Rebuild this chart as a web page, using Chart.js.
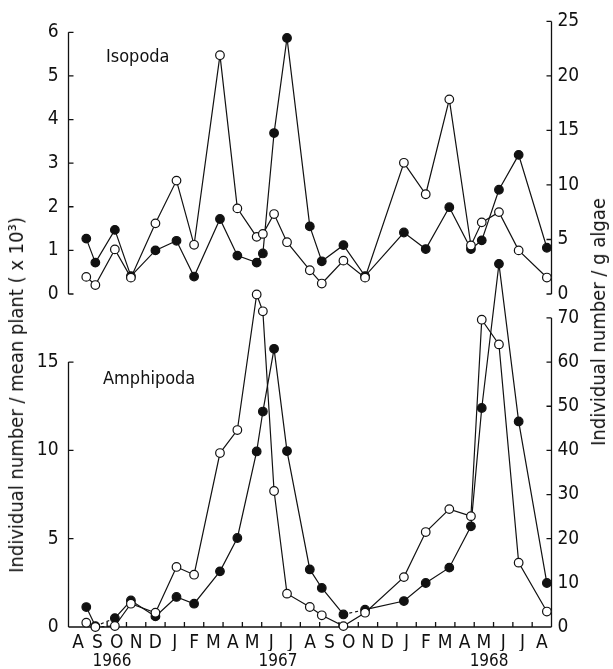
<!DOCTYPE html>
<html>
<head>
<meta charset="utf-8">
<script src="https://cdn.jsdelivr.net/npm/chart.js@4.4.0/dist/chart.umd.min.js"></script>
<style>
  body { margin: 0; background: #fff; }
  #wrap { position: relative; width: 613px; height: 669px; overflow: hidden; color: #111;
          font-family: 'DejaVu Sans Condensed', 'DejaVu Sans', sans-serif; }
  canvas { position: absolute; left: 0; }
  #top { top: 0; }
  #bottom { top: 240px; }
  .lbl { position: absolute; font-size: 18px; line-height: 1; white-space: nowrap; }
  .vt { font-size: 20px; transform: translate(-50%, -50%) rotate(-90deg); }
</style>
</head>
<body>
<div id="wrap">
  <canvas id="bottom" width="613" height="429"></canvas>
  <canvas id="top" width="613" height="316"></canvas>
  <div class="lbl" style="left:106px; top:47px">Isopoda</div>
  <div class="lbl" style="left:103px; top:369px">Amphipoda</div>
  <div class="lbl vt" style="left:16px; top:395px">Individual number / mean plant ( x 10³)</div>
  <div class="lbl vt" style="left:598px; top:322px">Individual number / g algae</div>
</div>
<script>
// sampling dates, in months counted from 1 Aug 1966
const sampleMonth = [0.92, 1.39, 2.40, 3.23, 4.50, 5.59, 6.50, 7.84, 8.74, 9.74, 10.06, 10.64, 11.31,
  12.49, 13.11, 14.23, 15.35, 17.36, 18.49, 19.71, 20.83, 21.39, 22.28, 23.30, 24.76];

const monthLabels = ['A','S','O','N','D','J','F','M','A','M','J','J','A','S','O','N','D','J','F','M','A','M','J','J','A'];
const yearLabels = ['1966', '1967', '1968'];
const yearPos = [2.25, 10.84, 21.77];

// Isopoda: filled = per mean plant (x10^3), open = per g algae
const isoPlant = [1.27, 0.72, 1.47, 0.41, 1.0, 1.22, 0.4, 1.72, 0.88, 0.72, 0.93, 3.69, 5.87,
  1.55, 0.75, 1.12, 0.41, 1.41, 1.03, 1.99, 1.03, 1.23, 2.39, 3.19, 1.06];
const isoAlgae = [1.57, 0.82, 4.09, 1.5, 6.48, 10.4, 4.51, 21.9, 7.85, 5.24, 5.51, 7.33, 4.75,
  2.18, 0.96, 3.06, 1.5, 12.03, 9.15, 17.85, 4.45, 6.57, 7.51, 4.0, 1.51];

// Amphipoda
const amphiPlant = [1.13, 0.05, 0.5, 1.5, 0.6, 1.7, 1.32, 3.15, 5.04, 9.94, 12.2, 15.75, 9.96,
  3.26, 2.21, 0.71, 0.98, 1.47, 2.49, 3.36, 5.7, 12.4, 20.56, 11.64, 2.49];
const amphiAlgae = [0.97, 0, 0.23, 5.28, 3.24, 13.6, 11.85, 39.4, 44.6, 75.3, 71.5, 30.8, 7.55,
  4.53, 2.65, 0.2, 3.24, 11.3, 21.5, 26.7, 25.1, 69.6, 64, 14.57, 3.5];

const isoPlantTicks = [0, 1, 2, 3, 4, 5, 6];
const isoAlgaeTicks = [0, 5, 10, 15, 20, 25];
const amphiPlantTicks = [0, 5, 10, 15];
const amphiAlgaeTicks = [0, 10, 20, 30, 40, 50, 60, 70];

const ink = '#111';
const FONT = "'DejaVu Sans Condensed', 'DejaVu Sans', sans-serif";

function series(values, filled, yAxisID, dashed) {
  return {
    data: values.map((v, i) => ({ x: sampleMonth[i], y: v })),
    yAxisID: yAxisID,
    borderColor: ink,
    borderWidth: 1.2,
    pointRadius: 4.3,
    pointBorderWidth: 1.2,
    pointBorderColor: ink,
    pointBackgroundColor: filled ? ink : '#fff',
    tension: 0,
    clip: false,
    order: filled ? 2 : 1,
    segment: { borderDash: ctx => dashed.includes(ctx.p0DataIndex) ? [3, 3] : undefined }
  };
}

function yAxis(position, max, ticks, width, pad) {
  return {
    type: 'linear', position: position, min: 0, max: max,
    grid: { display: false, drawTicks: false },
    border: { display: false },
    afterBuildTicks: s => { s.ticks = ticks.map(v => ({ value: v })); },
    afterFit: s => { s.width = width; },
    ticks: { color: ink, padding: pad, autoSkip: false, font: { size: 19, family: FONT } }
  };
}

// axis lines with inward ticks, drawn from the chart's own scales
const axisFrame = {
  id: 'axisFrame',
  beforeDatasetsDraw(chart, args, opts) {
    const ctx = chart.ctx, area = chart.chartArea, len = 5;
    ctx.save();
    ctx.strokeStyle = ink;
    ctx.lineWidth = 1.3;
    ctx.beginPath();
    ['yL', 'yR'].forEach(id => {
      const s = chart.scales[id];
      const x = id === 'yL' ? area.left : area.right;
      const dir = id === 'yL' ? 1 : -1;
      ctx.moveTo(x, s.getPixelForValue(opts[id][0]));
      ctx.lineTo(x, s.getPixelForValue(opts[id][1]));
      s.ticks.forEach(t => {
        const y = s.getPixelForValue(t.value);
        ctx.moveTo(x, y);
        ctx.lineTo(x + dir * len, y);
      });
    });
    if (opts.xAxis) {
      const s = chart.scales.x, y = area.bottom;
      ctx.moveTo(area.left, y);
      ctx.lineTo(area.right, y);
      for (let m = 1; m < monthLabels.length; m++) {
        const x = s.getPixelForValue(m);
        ctx.moveTo(x, y);
        ctx.lineTo(x, y - len);
      }
    }
    ctx.stroke();
    ctx.restore();
  }
};

// Top panel - Isopoda
new Chart(document.getElementById('top'), {
  type: 'line',
  data: { datasets: [series(isoAlgae, false, 'yR', []), series(isoPlant, true, 'yL', [])] },
  options: {
    responsive: false,
    animation: false,
    layout: { padding: { top: 18, bottom: 22, left: 0, right: 0 } },
    plugins: {
      legend: { display: false },
      tooltip: { enabled: false },
      axisFrame: { yL: [0, 6], yR: [0, 25], xAxis: false }
    },
    scales: {
      x: { type: 'linear', min: 0, max: 25, display: false },
      yL: yAxis('left', 6.25, isoPlantTicks, 68.5, 10),
      yR: yAxis('right', 25, isoAlgaeTicks, 61.5, 6)
    }
  },
  plugins: [axisFrame]
});

// Bottom panel - Amphipoda
new Chart(document.getElementById('bottom'), {
  type: 'line',
  data: { datasets: [series(amphiAlgae, false, 'yR', [1]), series(amphiPlant, true, 'yL', [1, 15])] },
  options: {
    responsive: false,
    animation: false,
    layout: { padding: { top: 20, bottom: 0, left: 0, right: 0 } },
    plugins: {
      legend: { display: false },
      tooltip: { enabled: false },
      axisFrame: { yL: [0, 15], yR: [0, 70], xAxis: true }
    },
    scales: {
      x: {
        type: 'linear', position: 'bottom', min: 0, max: 25,
        grid: { display: false, drawTicks: false },
        border: { display: false },
        afterBuildTicks: s => { s.ticks = monthLabels.map((m, i) => ({ value: i + 0.5 })); },
        afterFit: s => { s.height = 24; },
        ticks: { color: ink, padding: 5, autoSkip: false, maxRotation: 0,
                 callback: (v, i) => monthLabels[i], font: { size: 19, family: FONT } }
      },
      x2: {
        type: 'linear', position: 'bottom', min: 0, max: 25,
        grid: { display: false, drawTicks: false },
        border: { display: false },
        afterBuildTicks: s => { s.ticks = yearPos.map(v => ({ value: v })); },
        afterFit: s => { s.height = 18; },
        ticks: { color: ink, padding: 0, autoSkip: false, maxRotation: 0,
                 callback: (v, i) => yearLabels[i], font: { size: 17, family: FONT } }
      },
      yL: yAxis('left', 20.7, amphiPlantTicks, 68.5, 10),
      yR: yAxis('right', 82.8, amphiAlgaeTicks, 61.5, 6)
    }
  },
  plugins: [axisFrame]
});
</script>
</body>
</html>
